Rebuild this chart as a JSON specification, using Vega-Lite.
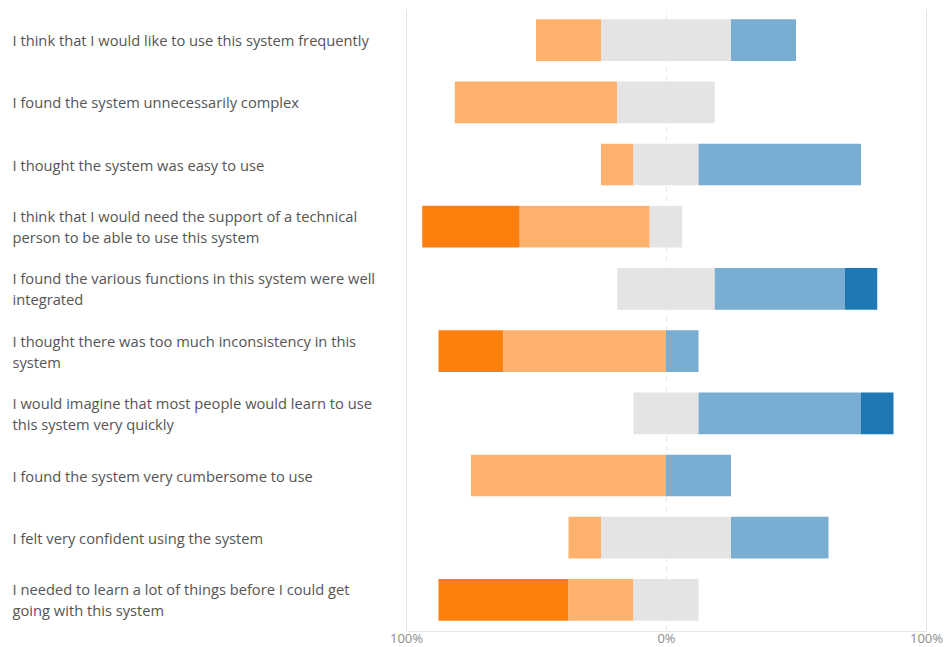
{
  "$schema": "https://vega.github.io/schema/vega-lite/v6.json",
  "width": 520,
  "height": 622,
  "autosize": {"type": "none"},
  "padding": {"left": 406, "top": 9, "right": 20, "bottom": 16},
  "background": "white",
  "config": {"view": {"stroke": null}, "font": "Open Sans"},
  "data": {
    "values": [
      {"question": "I think that I would like to use this system frequently", "response": "Disagree", "value": -25},
      {"question": "I think that I would like to use this system frequently", "response": "Neutral", "value": -25},
      {"question": "I think that I would like to use this system frequently", "response": "Neutral", "value": 25},
      {"question": "I think that I would like to use this system frequently", "response": "Agree", "value": 25},

      {"question": "I found the system unnecessarily complex", "response": "Disagree", "value": -62.5},
      {"question": "I found the system unnecessarily complex", "response": "Neutral", "value": -18.75},
      {"question": "I found the system unnecessarily complex", "response": "Neutral", "value": 18.75},

      {"question": "I thought the system was easy to use", "response": "Disagree", "value": -12.5},
      {"question": "I thought the system was easy to use", "response": "Neutral", "value": -12.5},
      {"question": "I thought the system was easy to use", "response": "Neutral", "value": 12.5},
      {"question": "I thought the system was easy to use", "response": "Agree", "value": 62.5},

      {"question": "I think that I would need the support of a technical\nperson to be able to use this system", "response": "Strongly disagree", "value": -37.5},
      {"question": "I think that I would need the support of a technical\nperson to be able to use this system", "response": "Disagree", "value": -50},
      {"question": "I think that I would need the support of a technical\nperson to be able to use this system", "response": "Neutral", "value": -6.25},
      {"question": "I think that I would need the support of a technical\nperson to be able to use this system", "response": "Neutral", "value": 6.25},

      {"question": "I found the various functions in this system were well\nintegrated", "response": "Neutral", "value": -18.75},
      {"question": "I found the various functions in this system were well\nintegrated", "response": "Neutral", "value": 18.75},
      {"question": "I found the various functions in this system were well\nintegrated", "response": "Agree", "value": 50},
      {"question": "I found the various functions in this system were well\nintegrated", "response": "Strongly agree", "value": 12.5},

      {"question": "I thought there was too much inconsistency in this\nsystem", "response": "Strongly disagree", "value": -25},
      {"question": "I thought there was too much inconsistency in this\nsystem", "response": "Disagree", "value": -62.5},
      {"question": "I thought there was too much inconsistency in this\nsystem", "response": "Agree", "value": 12.5},

      {"question": "I would imagine that most people would learn to use\nthis system very quickly", "response": "Neutral", "value": -12.5},
      {"question": "I would imagine that most people would learn to use\nthis system very quickly", "response": "Neutral", "value": 12.5},
      {"question": "I would imagine that most people would learn to use\nthis system very quickly", "response": "Agree", "value": 62.5},
      {"question": "I would imagine that most people would learn to use\nthis system very quickly", "response": "Strongly agree", "value": 12.5},

      {"question": "I found the system very cumbersome to use", "response": "Disagree", "value": -75},
      {"question": "I found the system very cumbersome to use", "response": "Agree", "value": 25},

      {"question": "I felt very confident using the system", "response": "Disagree", "value": -12.5},
      {"question": "I felt very confident using the system", "response": "Neutral", "value": -25},
      {"question": "I felt very confident using the system", "response": "Neutral", "value": 25},
      {"question": "I felt very confident using the system", "response": "Agree", "value": 37.5},

      {"question": "I needed to learn a lot of things before I could get\ngoing with this system", "response": "Strongly disagree", "value": -50},
      {"question": "I needed to learn a lot of things before I could get\ngoing with this system", "response": "Disagree", "value": -25},
      {"question": "I needed to learn a lot of things before I could get\ngoing with this system", "response": "Neutral", "value": -12.5},
      {"question": "I needed to learn a lot of things before I could get\ngoing with this system", "response": "Neutral", "value": 12.5}
    ]
  },
  "transform": [
    {"calculate": "indexof(['Neutral','Disagree','Agree','Strongly disagree','Strongly agree'], datum.response)", "as": "rank"}
  ],
  "mark": {"type": "bar"},
  "encoding": {
    "y": {
      "field": "question",
      "type": "nominal",
      "sort": null,
      "title": null,
      "scale": {"paddingInner": 0.33, "paddingOuter": 0.165},
      "axis": {
        "domain": false,
        "ticks": false,
        "grid": false,
        "labelAlign": "left",
        "labelPadding": 394,
        "labelLimit": 0,
        "labelFontSize": 14.7,
        "labelColor": "#555555",
        "labelLineHeight": 21,
        "labelOffset": {"condition": {"test": "indexof(datum.value, '\\n') >= 0", "value": -8.5}, "value": 2},
        "labelExpr": "split(datum.label, '\\n')"
      }
    },
    "x": {
      "field": "value",
      "type": "quantitative",
      "stack": "zero",
      "title": null,
      "scale": {"domain": [-100, 100], "nice": false},
      "axis": {
        "values": [-100, 0, 100],
        "labelExpr": "abs(datum.value) + '%'",
        "grid": true,
        "gridColor": "#e6e6e6",
        "gridWidth": 1,
        "gridDash": {"condition": {"test": "datum.value === 0", "value": [5, 5]}, "value": []},
        "domain": true,
        "domainColor": "#e6e6e6",
        "ticks": false,
        "labelPadding": 1,
        "labelFontSize": 13,
        "labelColor": "#8c8c8c",
        "labelFlush": false
      }
    },
    "order": {"field": "rank", "type": "quantitative"},
    "color": {
      "field": "response",
      "type": "nominal",
      "legend": null,
      "scale": {
        "domain": ["Strongly disagree", "Disagree", "Neutral", "Agree", "Strongly agree"],
        "range": ["#ff7f0e", "#ffb26e", "#e4e4e4", "#79add2", "#1f77b4"]
      }
    }
  }
}
